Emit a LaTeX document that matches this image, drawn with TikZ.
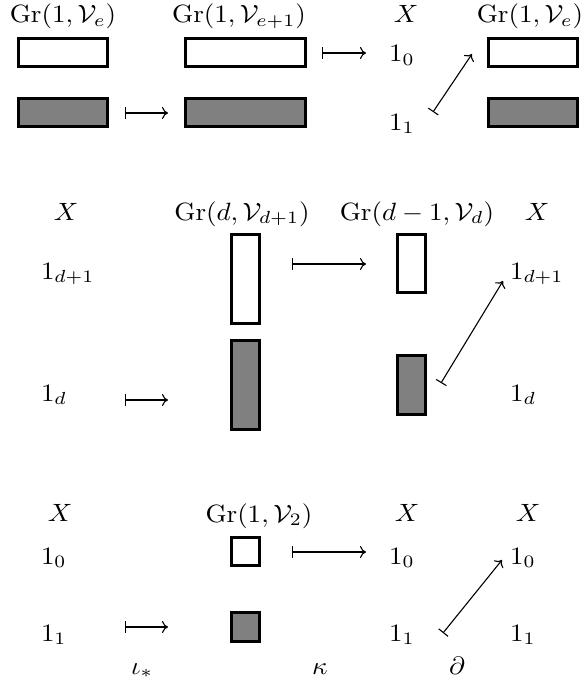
\documentclass[tikz,border=0pt]{standalone}
\usetikzlibrary{arrows.meta}
\tikzset{
  txt/.style={inner sep=0pt, outer sep=0pt, xscale=2.7, yscale=2.5, anchor=base},
  txl/.style={inner sep=0pt, outer sep=0pt, xscale=2.7, yscale=2.5, anchor=base west},
  wbox/.style={draw, line width=2.8pt, fill=white, inner sep=0pt, outer sep=0pt},
  gbox/.style={draw, line width=2.8pt, fill=gray, inner sep=0pt, outer sep=0pt},
  mto/.style={line width=1.1pt, {Bar[width=12pt]}-{Computer Modern Rightarrow[length=6pt,width=12pt]}},
}
\newcommand{\mybox}[6]{\node[#2, minimum width={#5-#3-2.8}, minimum height={#6-#4-2.8}] (#1) at ({(#3+#5)/2},{(#4+#6)/2}) {};}
\begin{document}
\begin{tikzpicture}[x=1pt,y=-1pt]
\useasboundingbox (0,0) rectangle (581,682);
% ---------- top section ----------
\node[txt] (tA) at (63,23) {$\mathrm{Gr}(1,\mathcal{V}_e)$};
\node[txt] (tB) at (239,23) {$\mathrm{Gr}(1,\mathcal{V}_{e+1})$};
\node[txt] (tX) at (406,23) {$X$};
\node[txt] (tD) at (530,23) {$\mathrm{Gr}(1,\mathcal{V}_e)$};
\mybox{b1w}{wbox}{17}{37}{109}{68}
\mybox{b1g}{gbox}{17}{97}{109}{128}
\mybox{b2w}{wbox}{184}{37}{307}{68}
\mybox{b2g}{gbox}{184}{97}{307}{128}
\mybox{b4w}{wbox}{487}{37}{579}{68}
\mybox{b4g}{gbox}{487}{97}{579}{128}
\node[txl] (t10) at (389,62) {$1_0$};
\node[txl] (t11) at (389,130) {$1_1$};
\coordinate (ta1) at (322,53); \coordinate (ta2) at (366,53);
\coordinate (tb1) at (125,113); \coordinate (tb2) at (168,113);
\coordinate (tc1) at (433,112); \coordinate (tc2) at (472,54);
\draw[mto] (ta1) -- (ta2);
\draw[mto] (tb1) -- (tb2);
\draw[mto] (tc1) -- (tc2);
% ---------- middle section ----------
\node[txt] (mX1) at (66,220) {$X$};
\node[txt] (mA) at (242,220) {$\mathrm{Gr}(d,\mathcal{V}_{d+1})$};
\node[txt] (mB) at (417,220) {$\mathrm{Gr}(d-1,\mathcal{V}_d)$};
\node[txt] (mX2) at (537,220) {$X$};
\node[txl] (m1a) at (41,279) {$1_{d+1}$};
\node[txl] (m1b) at (41,401) {$1_d$};
\node[txl] (m1c) at (510,279) {$1_{d+1}$};
\node[txl] (m1d) at (510,401) {$1_d$};
\mybox{m2w}{wbox}{230}{233}{261}{325}
\mybox{m2g}{gbox}{230}{339}{261}{431}
\mybox{m3w}{wbox}{396}{233}{427}{294}
\mybox{m3g}{gbox}{396}{354}{427}{416}
\coordinate (ma1) at (125,400); \coordinate (ma2) at (168,400);
\coordinate (mb1) at (292,264); \coordinate (mb2) at (366,264);
\coordinate (mc1) at (441,383); \coordinate (mc2) at (503,281);
\draw[mto] (ma1) -- (ma2);
\draw[mto] (mb1) -- (mb2);
\draw[mto] (mc1) -- (mc2);
% ---------- bottom section ----------
\node[txt] (bX1) at (60,521) {$X$};
\node[txt] (bA) at (259,522) {$\mathrm{Gr}(1,\mathcal{V}_2)$};
\node[txt] (bX2) at (407,521) {$X$};
\node[txt] (bX3) at (528,521) {$X$};
\node[txl] (b10a) at (41,564) {$1_0$};
\node[txl] (b11a) at (41,641) {$1_1$};
\node[txl] (b10b) at (389,564) {$1_0$};
\node[txl] (b11b) at (389,641) {$1_1$};
\node[txl] (b10c) at (510,564) {$1_0$};
\node[txl] (b11c) at (510,641) {$1_1$};
\mybox{bsw}{wbox}{230}{536}{261}{567}
\mybox{bsg}{gbox}{230}{611}{261}{643}
\coordinate (ba1) at (125,627); \coordinate (ba2) at (168,627);
\coordinate (bb1) at (292,552); \coordinate (bb2) at (366,552);
\coordinate (bc1) at (443,633); \coordinate (bc2) at (502,560);
\draw[mto] (ba1) -- (ba2);
\draw[mto] (bb1) -- (bb2);
\draw[mto] (bc1) -- (bc2);
\node[txt] (iota) at (142,674) {$\iota_*$};
\node[txt] (kap) at (320,674) {$\kappa$};
\node[txt] (del) at (457,674) {$\partial$};
\end{tikzpicture}
\end{document}
